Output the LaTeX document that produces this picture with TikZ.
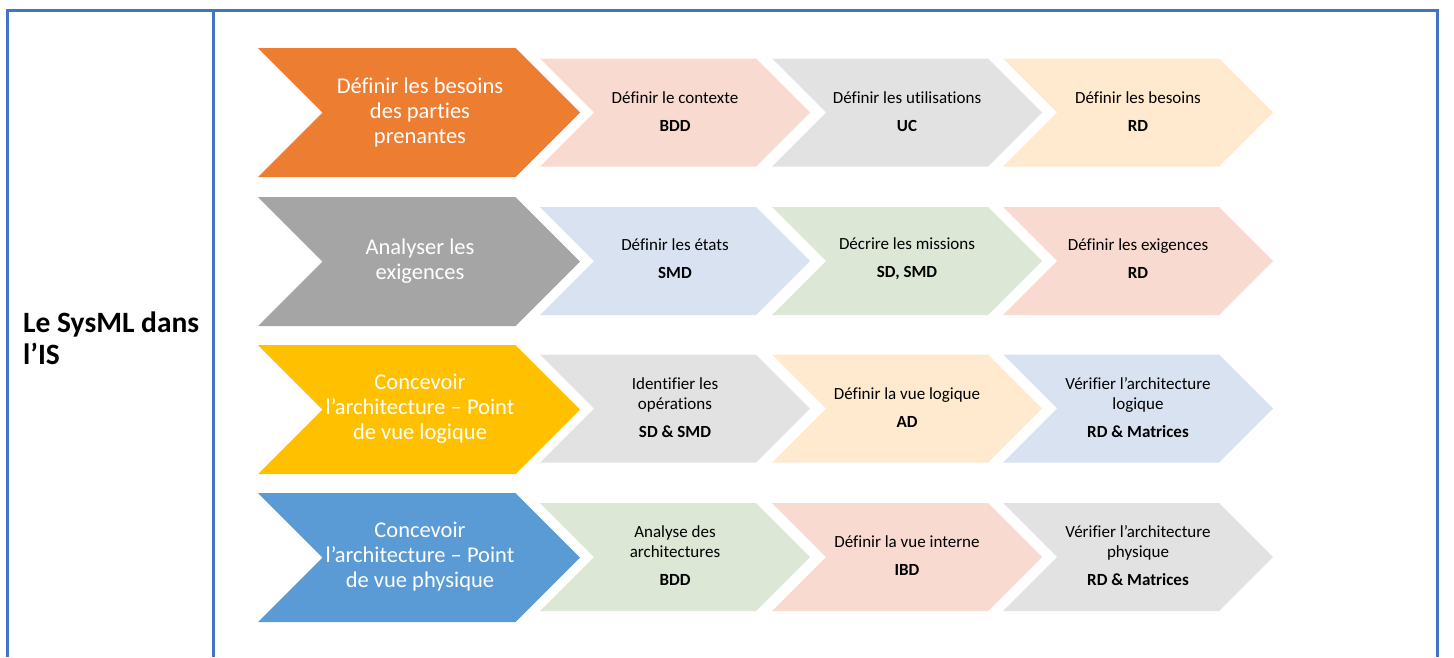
\documentclass[tikz,border=0pt]{standalone}
\usepackage{fontspec}
\setmainfont[Ligatures=NoCommon]{Carlito}
\usepackage{tikz}
\usetikzlibrary{positioning}
\definecolor{cadre}{RGB}{68,114,196}
\definecolor{orangeF}{RGB}{237,125,49}
\definecolor{grisF}{RGB}{165,165,165}
\definecolor{jauneF}{RGB}{255,192,0}
\definecolor{bleuF}{RGB}{91,155,213}
\definecolor{roseC}{RGB}{248,218,208}
\definecolor{grisC}{RGB}{226,226,226}
\definecolor{pecheC}{RGB}{255,233,207}
\definecolor{bleuC}{RGB}{216,226,241}
\definecolor{vertC}{RGB}{220,231,213}
% chevron : x gauche, y centre, demi-hauteur, largeur, couleur
\newcommand{\chevron}[5]{%
  \fill[#5] (#1,#2-#3) -- ++(#4-#3,0) -- ++(#3,#3) -- ++(-#3,#3)
    -- ++(-#4+#3,0) -- ++(#3,-#3) -- cycle;}
\tikzset{
  grand/.style={align=center,text=white,font=\fontsize{22.5}{25}\selectfont,inner sep=0pt},
  petit/.style={align=center,text=black,font=\fontsize{17}{20}\selectfont,inner sep=0pt},
  titre/.style={align=left,anchor=west,font=\fontsize{29.5}{32}\selectfont\bfseries,inner sep=0pt}
}
\begin{document}
\begin{tikzpicture}[x=1pt,y=-1pt]
\useasboundingbox (0,0) rectangle (1454,657);
% cadre du tableau
\draw[cadre,line width=3pt] (7.5,657) -- (7.5,10) -- (1437,10) -- (1437,657);
\draw[cadre,line width=3pt] (213,10) -- (213,657);
\node[titre] (titre) at (23,338) {Le SysML dans\\l’IS};
% ligne 1
\chevron{258}{112.5}{64.5}{322}{orangeF}
\chevron{540}{112.5}{54}{270}{roseC}
\chevron{772}{112.5}{54}{270}{grisC}
\chevron{1003}{112.5}{54}{270}{pecheC}
\node[grand] (g1) at (420,112) {Définir les besoins\\des parties\\prenantes};
\node[petit] (p11) at (675,112) {Définir le contexte\\[8pt]\textbf{BDD}};
\node[petit] (p12) at (907,112) {Définir les utilisations\\[8pt]\textbf{UC}};
\node[petit] (p13) at (1138,112) {Définir les besoins\\[8pt]\textbf{RD}};
% ligne 2
\chevron{258}{261.5}{64.5}{322}{grisF}
\chevron{540}{261}{54}{270}{bleuC}
\chevron{772}{261}{54}{270}{vertC}
\chevron{1003}{261}{54}{270}{roseC}
\node[grand] (g2) at (420,261) {Analyser les\\exigences};
\node[petit] (p21) at (675,259) {Définir les états\\[8pt]\textbf{SMD}};
\node[petit] (p22) at (907,259) {Décrire les missions\\[8pt]\textbf{SD, SMD}};
\node[petit] (p23) at (1138,259) {Définir les exigences\\[8pt]\textbf{RD}};
% ligne 3
\chevron{258}{409.5}{64.5}{322}{jauneF}
\chevron{540}{408.5}{54}{270}{grisC}
\chevron{772}{408.5}{54}{270}{pecheC}
\chevron{1003}{408.5}{54}{270}{bleuC}
\node[grand] (g3) at (420,409) {Concevoir\\l’architecture – Point\\de vue logique};
\node[petit] (p31) at (675,408) {Identifier les\\opérations\\[8pt]\textbf{SD \& SMD}};
\node[petit] (p32) at (907,408) {Définir la vue logique\\[8pt]\textbf{AD}};
\node[petit] (p33) at (1138,408) {Vérifier l’architecture\\logique\\[8pt]\textbf{RD \& Matrices}};
% ligne 4
\chevron{258}{557.5}{64.5}{322}{bleuF}
\chevron{540}{557}{54}{270}{vertC}
\chevron{772}{557}{54}{270}{roseC}
\chevron{1003}{557}{54}{270}{grisC}
\node[grand] (g4) at (420,557) {Concevoir\\l’architecture – Point\\de vue physique};
\node[petit] (p41) at (675,556) {Analyse des\\architectures\\[8pt]\textbf{BDD}};
\node[petit] (p42) at (907,556) {Définir la vue interne\\[8pt]\textbf{IBD}};
\node[petit] (p43) at (1138,556) {Vérifier l’architecture\\physique\\[8pt]\textbf{RD \& Matrices}};
\end{tikzpicture}
\end{document}
